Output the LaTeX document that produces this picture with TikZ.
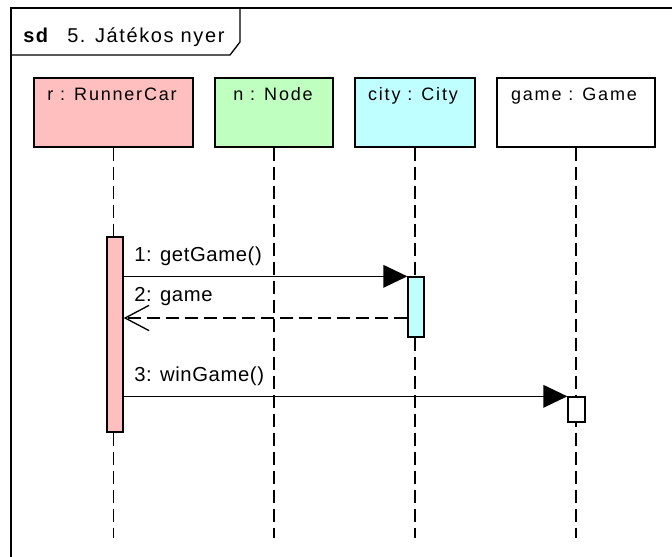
\documentclass[tikz,border=0pt]{standalone}
\usepackage{fontspec}
\setmainfont{Liberation Sans}
\usetikzlibrary{arrows.meta}
\definecolor{rc}{RGB}{255,191,191}
\definecolor{nc}{RGB}{191,255,191}
\definecolor{cc}{RGB}{191,255,255}
\tikzset{
  frameline/.style={line width=1.4pt},
  titlefont/.style={font={\fontsize{15pt}{18pt}\selectfont\addfontfeature{LetterSpace=8}}},
  lbox/.style={draw, line width=1pt, rectangle, inner sep=0pt, minimum height=51.75pt},
  lname/.style={anchor=base, inner sep=0pt, font={\fontsize{13.5pt}{16pt}\selectfont\addfontfeature{LetterSpace=10}}},
  lifeline/.style={line width=1.1pt, dash pattern=on 9.75pt off 4.5pt},
  actbar/.style={draw, line width=1pt, rectangle, inner sep=0pt},
  call/.style={line width=1pt, -{Triangle[length=18pt,width=17pt]}},
  ret/.style={line width=1pt, dash pattern=on 9.75pt off 4.5pt, -{Straight Barb[length=18pt,width=19pt,line width=1pt]}},
  mlabel/.style={anchor=base west, inner sep=0pt, font={\fontsize{15.2pt}{18pt}\selectfont\addfontfeature{LetterSpace=3}}}
}
\begin{document}
\begin{tikzpicture}[x=0.75pt,y=-0.75pt]
\useasboundingbox (0,0) rectangle (672,557);
\fill[white] (0,0) rectangle (672,557);
% frame
\draw[frameline] (672,8) -- (11,8) -- (11,557);
\draw[line width=1pt] (11,55) -- (230,55) -- (240,42) -- (240,8);
\node[titlefont, anchor=base west, inner sep=0pt] (sd) at (23,42) {\bfseries sd};
\node[titlefont, anchor=base west, inner sep=0pt] (title) at (67,42) {5. Játékos nyer};
% lifeline heads
\node[lbox, fill=rc, minimum width=119.25pt] (r) at (113.5,112.5) {};
\node[lbox, fill=nc, minimum width=88.5pt] (n) at (274,112.5) {};
\node[lbox, fill=cc, minimum width=90pt] (c) at (415,112.5) {};
\node[lbox, fill=white, minimum width=118.5pt] (g) at (576,112.5) {};
\node[lname] (rt) at (112,100) {r : RunnerCar};
\node[lname] (nt) at (273,100) {n : Node};
\node[lname] (ct) at (413,100) {city : City};
\node[lname] (gt) at (574,100) {game : Game};
% lifelines
\coordinate (endy) at (0,538);
\draw[lifeline] (r.south) -- (r.south |- endy);
\draw[lifeline] (n.south) -- (n.south |- endy);
\draw[lifeline] (c.south) -- (c.south |- endy);
\draw[lifeline] (g.south) -- (g.south |- endy);
% activation bars
\node[actbar, fill=rc, minimum width=12pt, minimum height=146.25pt] (ra) at (115,334.5) {};
\node[actbar, fill=cc, minimum width=12pt, minimum height=45pt] (ca) at (416,307) {};
\node[actbar, fill=white, minimum width=12.75pt, minimum height=18.75pt] (ga) at (576.5,409.5) {};
% messages
\coordinate (m2) at (0,318);
\draw[call] (ra.east |- ca.north) -- (ca.north west);
\draw[ret] (ca.west |- m2) -- (ra.east |- m2);
\draw[call] (ra.east |- ga.north) -- (ga.north west);
\node[mlabel] (l1) at (134,261) {1: getGame()};
\node[mlabel] (l2) at (134,301) {2: game};
\node[mlabel] (l3) at (134,381) {3: winGame()};
\end{tikzpicture}
\end{document}
